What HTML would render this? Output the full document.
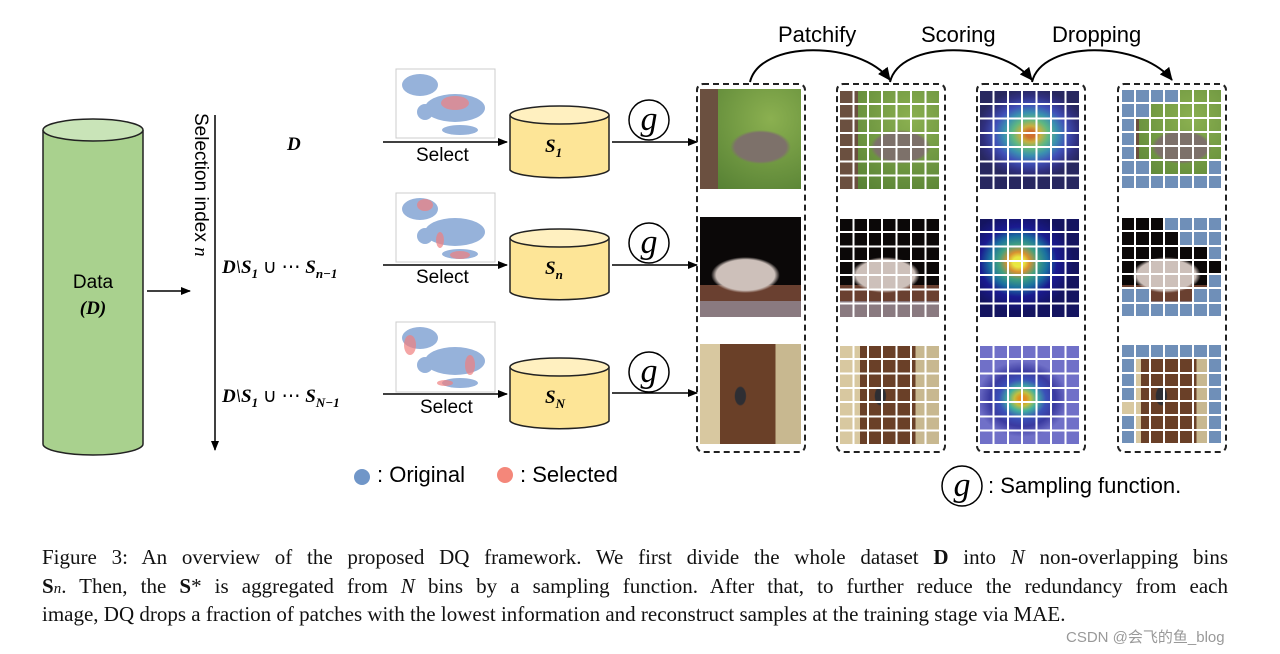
<!DOCTYPE html>
<html><head><meta charset="utf-8"><style>
body{margin:0;width:1280px;height:654px;background:#fff;position:relative;overflow:hidden;font-family:"Liberation Sans",sans-serif}
.a{position:absolute}
.m{font-family:"Liberation Serif",serif;font-style:italic;font-weight:bold;font-size:19px}
.sel{font-size:19px}
.panel{position:absolute;width:106px;height:366px;border:2px dashed #222;border-radius:7px;top:83px}
.img{position:absolute;left:2px;width:101px;height:100px}
.ov{position:absolute;inset:0;background-image:repeating-linear-gradient(90deg,transparent 0 12.4px,#fff 12.4px 14.4px),repeating-linear-gradient(0deg,transparent 0 12.3px,#fff 12.3px 14.3px)}
.i1{background:radial-gradient(ellipse 30% 17% at 60% 58%,#7d716a 85%,transparent 100%),linear-gradient(90deg,#6b5040 0 18%,transparent 18%),radial-gradient(circle at 70% 30%,#8bb050,#4f7a30)}
.i2{background:radial-gradient(ellipse 34% 18% at 45% 58%,#cdc0ba 85%,transparent 100%),linear-gradient(180deg,#0b0808 0 68%,#6a4030 68% 84%,#8a7a80 84%)}
.i3{background:radial-gradient(ellipse 6% 10% at 40% 52%,#2e2e33 85%,transparent 100%),linear-gradient(90deg,#d8c8a0 0 20%,#6a4028 20% 75%,#c8b890 75%)}
.h1{background:radial-gradient(ellipse 55% 45% at 50% 45%,#d07030 0 8%,#c8b040 18%,#60b880 32%,#3a90b0 48%,#4050b8 65%,#303080 85%,#282860 100%)}
.h2{background:radial-gradient(ellipse 55% 50% at 38% 45%,#e8e840 0 10%,#d89030 20%,#40a080 35%,#1a70a0 52%,#1a1a90 70%,#141460 100%)}
.h3{background:radial-gradient(ellipse 45% 38% at 42% 55%,#e09020 0 8%,#c0c040 18%,#40b0a0 32%,#3a50b8 52%,#3a3aa0 72%,#7070c8 100%)}
.dg{display:grid;grid-template-columns:repeat(7,1fr);grid-template-rows:repeat(7,1fr)}
.dg span{border:1px solid #fff}
.dg span.d{background:#6f8fb8}
.cap{position:absolute;left:42px;width:1186px;font-family:"Liberation Serif",serif;font-size:21px;color:#111;line-height:28px}
.j{text-align:justify;text-align-last:justify}
</style></head><body>

<svg class="a" style="left:0;top:0" width="1280" height="654">
<defs><marker id="ar" markerWidth="10" markerHeight="10" refX="9" refY="5" orient="auto" markerUnits="userSpaceOnUse"><path d="M0,1 L10,5 L0,9 z" fill="#000"/></marker>
<marker id="ar2" markerWidth="14" markerHeight="14" refX="12" refY="7" orient="auto" markerUnits="userSpaceOnUse"><path d="M0,1 L13,7 L0,13 z" fill="#000"/></marker></defs>
<path d="M43,130 L43,444 A50,11 0 0 0 143,444 L143,130" fill="#a9d18e" stroke="#222" stroke-width="1.5"/>
<ellipse cx="93" cy="130" rx="50" ry="11" fill="#c9e4b8" stroke="#222" stroke-width="1.5"/>
<line x1="147" y1="291" x2="190" y2="291" stroke="#000" stroke-width="1.5" marker-end="url(#ar)"/>
<line x1="215" y1="115" x2="215" y2="450" stroke="#000" stroke-width="1.5" marker-end="url(#ar)"/>
<g stroke="#222" stroke-width="1.5">
<path d="M510,115 L510,170 A50,9 0 0 0 609,170 L609,115" fill="#fde597"/><ellipse cx="559.5" cy="115" rx="49.5" ry="9" fill="#fff0c0"/>
<path d="M510,238 L510,292 A50,9 0 0 0 609,292 L609,238" fill="#fde597"/><ellipse cx="559.5" cy="238" rx="49.5" ry="9" fill="#fff0c0"/>
<path d="M510,367 L510,421 A50,9 0 0 0 609,421 L609,367" fill="#fde597"/><ellipse cx="559.5" cy="367" rx="49.5" ry="9" fill="#fff0c0"/>
</g>
<g stroke="#000" stroke-width="1.5" marker-end="url(#ar)">
<line x1="383" y1="142" x2="507" y2="142"/><line x1="383" y1="265" x2="507" y2="265"/><line x1="383" y1="394" x2="507" y2="394"/>
<line x1="612" y1="142" x2="697" y2="142"/><line x1="612" y1="265" x2="697" y2="265"/><line x1="612" y1="393" x2="697" y2="393"/>
</g>
<g fill="#fff" stroke="#000" stroke-width="1.5">
<ellipse cx="649" cy="120" rx="20" ry="20"/><ellipse cx="649" cy="243" rx="20" ry="20"/><ellipse cx="649" cy="372" rx="20" ry="20"/>
<ellipse cx="962" cy="486" rx="20" ry="20"/>
</g>
<g font-family="Liberation Serif,serif" font-style="italic" font-size="34" text-anchor="middle">
<text x="649" y="130">g</text><text x="649" y="253">g</text><text x="649" y="382">g</text><text x="962" y="496">g</text></g>
<g stroke="#ccc" fill="#fff"><rect x="396" y="69" width="99" height="69"/><rect x="396" y="193" width="99" height="69"/><rect x="396" y="322" width="99" height="70"/></g>
<g fill="#7c9fd2" opacity="0.8">
<ellipse cx="420" cy="85" rx="18" ry="11"/><ellipse cx="455" cy="108" rx="30" ry="14"/><ellipse cx="460" cy="130" rx="18" ry="5"/><ellipse cx="425" cy="112" rx="8" ry="8"/>
<ellipse cx="420" cy="209" rx="18" ry="11"/><ellipse cx="455" cy="232" rx="30" ry="14"/><ellipse cx="460" cy="254" rx="18" ry="5"/><ellipse cx="425" cy="236" rx="8" ry="8"/>
<ellipse cx="420" cy="338" rx="18" ry="11"/><ellipse cx="455" cy="361" rx="30" ry="14"/><ellipse cx="460" cy="383" rx="18" ry="5"/><ellipse cx="425" cy="365" rx="8" ry="8"/>
</g>
<g fill="#f08080" opacity="0.7"><ellipse cx="455" cy="103" rx="14" ry="7"/><ellipse cx="425" cy="205" rx="8" ry="6"/><ellipse cx="460" cy="255" rx="10" ry="4"/><ellipse cx="440" cy="240" rx="4" ry="8"/>
<ellipse cx="410" cy="345" rx="6" ry="10"/><ellipse cx="470" cy="365" rx="5" ry="10"/><ellipse cx="445" cy="383" rx="8" ry="3"/></g>
<g fill="none" stroke="#000" stroke-width="2" marker-end="url(#ar2)">
<path d="M750,82 C760,40 860,40 890,80"/><path d="M890,82 C900,40 1000,40 1032,80"/><path d="M1032,82 C1042,40 1140,40 1172,80"/>
</g>
<circle cx="362" cy="477" r="8" fill="#7096c8"/><circle cx="505" cy="475" r="8" fill="#f4877a"/>
</svg>

<div class="a" style="left:93px;top:270px;transform:translateX(-50%);font-size:19px;text-align:center;line-height:26px">Data<br><span class="m">(D)</span></div>
<div class="a" style="left:187px;top:113px;font-size:19px;transform-origin:0 0;transform:translate(24px,0) rotate(90deg);white-space:nowrap">Selection index <i style="font-family:'Liberation Serif',serif">n</i></div>
<div class="a m" style="left:287px;top:134px">D</div>
<div class="a m" style="left:222px;top:256px;white-space:nowrap">D\S<sub style="font-size:13px">1</sub> <span style="font-weight:normal;font-style:normal">∪ ⋯</span> S<sub style="font-size:13px">n−1</sub></div>
<div class="a m" style="left:222px;top:385px;white-space:nowrap">D\S<sub style="font-size:13px">1</sub> <span style="font-weight:normal;font-style:normal">∪ ⋯</span> S<sub style="font-size:13px">N−1</sub></div>
<div class="a sel" style="left:416px;top:145px">Select</div>
<div class="a sel" style="left:416px;top:267px">Select</div>
<div class="a sel" style="left:420px;top:397px">Select</div>
<div class="a m" style="left:545px;top:136px">S<sub style="font-size:13px">1</sub></div>
<div class="a m" style="left:545px;top:258px">S<sub style="font-size:13px">n</sub></div>
<div class="a m" style="left:545px;top:387px">S<sub style="font-size:13px">N</sub></div>
<div class="a" style="left:377px;top:462px;font-size:22px">: Original</div>
<div class="a" style="left:520px;top:462px;font-size:22px">: Selected</div>
<div class="a" style="left:988px;top:473px;font-size:22px">: Sampling function.</div>
<div class="a" style="left:778px;top:22px;font-size:22px">Patchify</div>
<div class="a" style="left:921px;top:22px;font-size:22px">Scoring</div>
<div class="a" style="left:1052px;top:22px;font-size:22px">Dropping</div>

<div class="panel" style="left:696px">
<div class="img i1" style="top:4px"></div><div class="img i2" style="top:132px"></div><div class="img i3" style="top:259px"></div></div>
<div class="panel" style="left:836px">
<div class="img i1" style="top:4px"><div class="ov"></div></div><div class="img i2" style="top:132px"><div class="ov"></div></div><div class="img i3" style="top:259px"><div class="ov"></div></div></div>
<div class="panel" style="left:976px">
<div class="img h1" style="top:4px"><div class="ov"></div></div><div class="img h2" style="top:132px"><div class="ov"></div></div><div class="img h3" style="top:259px"><div class="ov"></div></div></div>

<div class="panel" style="left:1117px">
<div class="img i1 dg" style="top:4px">
<span class="d"></span><span class="d"></span><span class="d"></span><span class="d"></span><span></span><span></span><span></span>
<span class="d"></span><span class="d"></span><span></span><span></span><span></span><span></span><span></span>
<span class="d"></span><span></span><span></span><span></span><span></span><span></span><span></span>
<span class="d"></span><span></span><span></span><span></span><span></span><span></span><span></span>
<span class="d"></span><span></span><span></span><span></span><span></span><span></span><span></span>
<span class="d"></span><span class="d"></span><span></span><span></span><span></span><span></span><span class="d"></span>
<span class="d"></span><span class="d"></span><span class="d"></span><span class="d"></span><span class="d"></span><span class="d"></span><span class="d"></span>
</div>
<div class="img i2 dg" style="top:132px">
<span></span><span></span><span></span><span class="d"></span><span class="d"></span><span class="d"></span><span class="d"></span>
<span></span><span></span><span></span><span></span><span class="d"></span><span class="d"></span><span class="d"></span>
<span></span><span></span><span></span><span></span><span></span><span></span><span class="d"></span>
<span></span><span></span><span></span><span></span><span></span><span></span><span></span>
<span></span><span></span><span></span><span></span><span></span><span></span><span class="d"></span>
<span class="d"></span><span class="d"></span><span></span><span></span><span></span><span class="d"></span><span class="d"></span>
<span class="d"></span><span class="d"></span><span class="d"></span><span class="d"></span><span class="d"></span><span class="d"></span><span class="d"></span>
</div>
<div class="img i3 dg" style="top:259px">
<span class="d"></span><span class="d"></span><span class="d"></span><span class="d"></span><span class="d"></span><span class="d"></span><span class="d"></span>
<span class="d"></span><span></span><span></span><span></span><span></span><span></span><span class="d"></span>
<span class="d"></span><span></span><span></span><span></span><span></span><span></span><span class="d"></span>
<span class="d"></span><span></span><span></span><span></span><span></span><span></span><span class="d"></span>
<span></span><span></span><span></span><span></span><span></span><span></span><span class="d"></span>
<span class="d"></span><span></span><span></span><span></span><span></span><span></span><span class="d"></span>
<span class="d"></span><span></span><span></span><span></span><span></span><span></span><span class="d"></span>
</div>
</div>

<div class="cap j" style="top:543px">Figure 3: An overview of the proposed DQ framework. We first divide the whole dataset <b>D</b> into <i>N</i> non-overlapping bins</div>
<div class="cap j" style="top:572px"><b>S</b><i style="font-size:15px">n</i>. Then, the <b>S</b>* is aggregated from <i>N</i> bins by a sampling function. After that, to further reduce the redundancy from each</div>
<div class="cap" style="top:600px">image, DQ drops a fraction of patches with the lowest information and reconstruct samples at the training stage via MAE.</div>
<div class="a" style="left:1066px;top:626px;font-size:15px;color:#999;font-family:'Liberation Sans','Noto Sans CJK SC',sans-serif">CSDN @会飞的鱼_blog</div>
</body></html>
